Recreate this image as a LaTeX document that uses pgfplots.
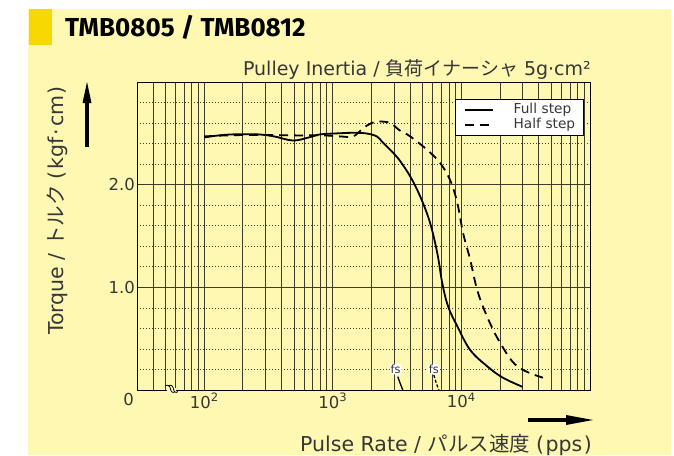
\documentclass[border=0pt]{standalone}
\usepackage{pgfplots}
\pgfplotsset{compat=1.18}
\usepackage{fontspec}
\setmainfont{DejaVu Sans}
\newfontfamily\jp{Noto Sans CJK JP}
\newfontfamily\titlefont{Fira Sans}

\definecolor{panel}{RGB}{254,248,178}
\definecolor{tab}{RGB}{247,216,0}
\definecolor{ink}{RGB}{55,55,55}
\definecolor{gridc}{RGB}{62,60,44}
\newcommand{\fs}[1]{\fontsize{#1}{#1}\selectfont}

% full step pull-out torque
\pgfplotstableread{
x y
100 2.46
130 2.48
170 2.49
260 2.49
350 2.47
490 2.43
650 2.46
800 2.49
1100 2.50
1400 2.505
1800 2.50
2200 2.47
2450 2.41
2950 2.31
3250 2.25
4000 2.08
4800 1.88
5700 1.63
6500 1.33
7100 1.04
7900 0.81
9300 0.62
11700 0.39
15900 0.23
21000 0.12
30000 0.03
}\fullstep

% half step pull-out torque
\pgfplotstableread{
x y
100 2.47
150 2.48
270 2.485
500 2.48
840 2.48
1140 2.47
1440 2.47
1720 2.55
2000 2.60
2300 2.615
2800 2.60
3300 2.53
4000 2.47
5400 2.34
6840 2.21
8200 2.04
9300 1.82
10300 1.53
11700 1.27
13300 0.97
15900 0.71
20000 0.46
27200 0.23
43000 0.12
}\halfstep

\begin{document}
\begin{tikzpicture}
\begin{scope}[x=1pt,y=-1pt]
  \path[use as bounding box] (0,0) rectangle (674,455);
  \fill[white] (0,0) rectangle (674,455);
  \fill[panel] (28,9) rectangle (671,455);
  \fill[tab] (29,9) rectangle (52,45);
  \node[anchor=base west, inner sep=0pt, font=\titlefont\bfseries\fs{26}] at (65,36.7) {TMB0805 / TMB0812};
  \node[anchor=base east, inner sep=0pt, text=ink, font=\fs{19}] at (591,75.5) {Pulley Inertia / {\jp 負荷イナーシャ} 5g·cm²};
  \node[anchor=base east, inner sep=0pt, text=ink, font=\fs{20.5}] at (592,451)
    {Pulse Rate / {\jp パルス速度}\hspace{6pt}(\hspace{1.5pt}pps\hspace{1.5pt})};
  \node[rotate=90, anchor=base west, inner sep=0pt, text=ink, font=\fs{20.5}] at (63,335)
    {Torque / {\jp トルク}\hspace{6pt}(\hspace{1.5pt}kgf\hspace{2pt}·\hspace{2pt}cm\hspace{1.5pt})};
  % axis arrows
  \fill[black] (528,418.3) rectangle (568,421.7);
  \fill[black] (566,415) -- (593,420) -- (566,425) -- cycle;
  \fill[black] (85.3,147) rectangle (88.7,100);
  \fill[black] (82.5,103) -- (87,82) -- (91.5,103) -- cycle;
  \node[text=ink, font=\fs{16.5}, inner sep=0pt] at (128.5,399) {0};
\end{scope}

\begin{axis}[
  at={(137pt,-390pt)}, anchor=south west,
  width=453pt, height=308pt, scale only axis,
  xmode=log, log basis x=10,
  xmin=30, xmax=100000, ymin=0, ymax=3,
  axis line style={black, line width=1pt},
  xtick={100,1000,10000},
  xticklabels={10\textsuperscript{2}, 10\textsuperscript{3}, 10\textsuperscript{4}},
  minor xtick={30,40,50,60,70,80,90,200,300,400,500,600,700,800,900,2000,3000,4000,5000,6000,7000,8000,9000,20000,30000,40000,50000,60000,70000,80000,90000},
  ytick={1,2}, yticklabels={1.0,2.0},
  minor ytick={0.2,0.4,0.6,0.8,1.2,1.4,1.6,1.8,2.2,2.4,2.6,2.8},
  major tick length=0pt, minor tick length=0pt,
  xmajorgrids, xminorgrids, ymajorgrids, yminorgrids,
  major grid style={gridc, line width=0.9pt},
  minor x grid style={gridc, line width=0.9pt},
  minor y grid style={gridc, line width=0.7pt, dash pattern=on 1pt off 2pt},
  tick label style={text=ink, font=\fs{16.5}, inner sep=0pt},
  xticklabel style={yshift=-3pt},
  yticklabel style={xshift=-2pt},
  legend cell align=left,
  legend image code/.code={\draw[#1] (0pt,0pt) -- (28pt,0pt);},
  legend style={at={(0.9868,0.9448)}, anchor=north east, draw=black, line width=0.8pt,
    fill=white, inner xsep=8pt, inner ysep=3pt, row sep=0pt, column sep=20pt,
    font=\fs{13.7}, text=ink,
    nodes={inner sep=0pt, text height=11pt, text depth=4pt, text width=62pt}},
]
\addplot[black, line width=1.8pt, smooth, tension=0.6] table {\fullstep};
\addlegendentry{Full step}
\addplot[black, line width=1.8pt, dash pattern=on 9pt off 6pt, smooth, tension=0.6] table {\halfstep};
\addlegendentry{Half step}
% start-stop frequency fs
\addplot[black, line width=1.3pt, smooth, forget plot] coordinates {(3200,0.13) (3330,0.07) (3500,0.0)};
\addplot[black, line width=1.3pt, dash pattern=on 3pt off 2pt, smooth, forget plot] coordinates {(6100,0.146) (6350,0.075) (6670,0.0)};
\node[fill=white, rounded corners=1.5pt, inner sep=0.8pt, font=\fs{11.5}, text=ink] at (axis cs:3083,0.204) {fs};
\node[fill=white, rounded corners=1.5pt, inner sep=0.8pt, font=\fs{11.5}, text=ink] at (axis cs:6100,0.204) {fs};
\end{axis}

\begin{scope}[x=1pt,y=-1pt]
  % axis break mark
  \fill[panel] (167,387.5) rectangle (176,392.5);
  \draw[black, line width=0.8pt] (165,386) .. controls (168,384) and (170,386) .. (170.5,389) .. controls (171,392) and (173,393.5) .. (175,391.5);
  \draw[black, line width=0.8pt] (168,386) .. controls (171,384) and (173,386) .. (173.5,389) .. controls (174,392) and (176,393.5) .. (178,391.5);
\end{scope}
\end{tikzpicture}
\end{document}
